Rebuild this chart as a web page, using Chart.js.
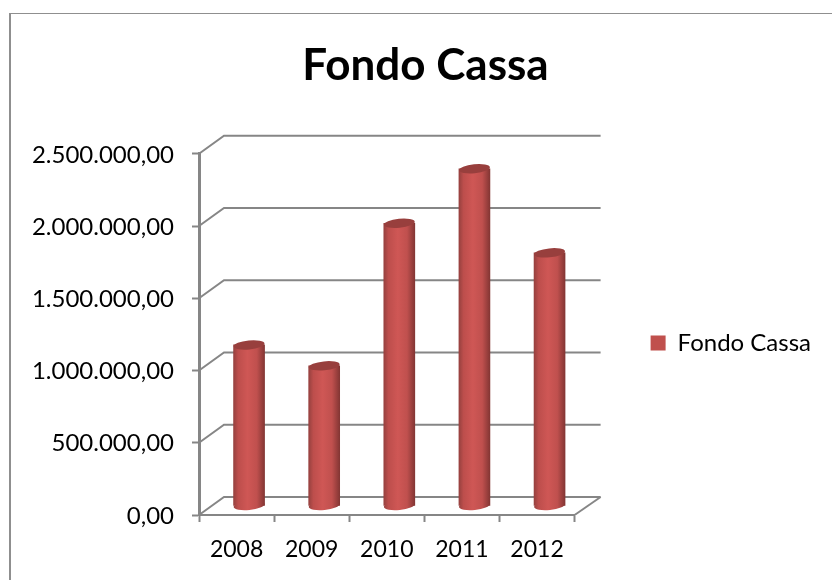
<!DOCTYPE html>
<html>
<head>
<meta charset="utf-8">
<title>Fondo Cassa</title>
<script src="https://cdn.jsdelivr.net/npm/chart.js@4"></script>
<style>
  html, body { margin: 0; padding: 0; background: #fff; }
  #frame { position: absolute; left: 9px; top: 13px; right: 0; bottom: 0; border-left: 2px solid #8f8f8f; border-top: 1px solid #8f8f8f; }
  #wrap { position: absolute; left: 0; top: 0; width: 832px; height: 580px; }
</style>
</head>
<body>
<div id="frame"></div>
<div id="wrap"><canvas id="cassaChart" width="832" height="580"></canvas></div>
<script>
const years = ["2008", "2009", "2010", "2011", "2012"];
const fondoCassa = [1115000, 970000, 1957000, 2334000, 1752000];
const yTickLabels = ["0,00", "500.000,00", "1.000.000,00", "1.500.000,00", "2.000.000,00", "2.500.000,00"];

const axisGrey = "#868686";
const fontName = "Lato, 'Open Sans', sans-serif";
// depth of the fake 3D box
const depthX = 25;
const depthY = 18;

function barGradient(context) {
  const chart = context.chart;
  if (context.dataIndex === undefined || !chart.scales.x) return "#c0504d";
  const mid = chart.scales.x.getPixelForValue(context.dataIndex);
  const g = chart.ctx.createLinearGradient(mid - 15.5, 0, mid + 15.5, 0);
  g.addColorStop(0, "#97413f");
  g.addColorStop(0.15, "#bd4e4c");
  g.addColorStop(0.45, "#cf5755");
  g.addColorStop(0.75, "#c0504e");
  g.addColorStop(1, "#843634");
  return g;
}

const wallsAndCaps = {
  id: "wallsAndCaps",
  afterLayout(chart) {
    // legend sits lower than the middle of the canvas, title is off centre
    chart.legend.top += 38;
    chart.legend.bottom += 38;
    chart.titleBlock.left += 15;
    chart.titleBlock.right += 15;
  },
  beforeDatasetsDraw(chart) {
    const { ctx, chartArea, scales } = chart;
    ctx.save();
    ctx.strokeStyle = axisGrey;
    ctx.lineWidth = 2;
    scales.y.ticks.forEach((t) => {
      const y = scales.y.getPixelForValue(t.value);
      ctx.beginPath();
      ctx.moveTo(chartArea.left, y);
      ctx.lineTo(chartArea.left + depthX, y - depthY);
      ctx.lineTo(chartArea.right + depthX + 1, y - depthY);
      ctx.stroke();
    });
    // floor, right hand side
    ctx.beginPath();
    ctx.moveTo(chartArea.right, chartArea.bottom);
    ctx.lineTo(chartArea.right + depthX + 1, chartArea.bottom - depthY);
    ctx.stroke();
    ctx.restore();
  },
  beforeDatasetDraw(chart) {
    chart.ctx.save();
    chart.ctx.translate(12.5, -9);
  },
  afterDatasetDraw(chart, args) {
    const ctx = chart.ctx;
    args.meta.data.forEach((bar) => {
      const rx = bar.width / 2;
      // round bottom
      ctx.fillStyle = bar.options.backgroundColor;
      ctx.beginPath();
      ctx.ellipse(bar.x, bar.base, rx, 4.5, -0.1, 0, Math.PI * 2);
      ctx.fill();
      // top of the cylinder
      ctx.fillStyle = "#983f3d";
      ctx.beginPath();
      ctx.ellipse(bar.x, bar.y, rx, 4.5, -0.1, 0, Math.PI * 2);
      ctx.fill();
    });
    ctx.restore();
  },
};

const cassaChart = new Chart(document.getElementById("cassaChart").getContext("2d"), {
  type: "bar",
  data: {
    labels: years,
    datasets: [
      {
        label: "Fondo Cassa",
        data: fondoCassa,
        backgroundColor: barGradient,
        barThickness: 31,
        borderWidth: 0,
        clip: false,
      },
    ],
  },
  options: {
    responsive: false,
    animation: false,
    layout: { padding: { top: 30, right: 11 } },
    scales: {
      x: {
        afterFit: (scale) => { scale.height = 65; },
        border: { color: axisGrey, width: 2 },
        grid: { drawOnChartArea: false, tickLength: 7, tickColor: axisGrey, tickWidth: 2 },
        ticks: { color: "#000", font: { family: fontName, size: 23 }, padding: 14, maxRotation: 0, autoSkip: false },
      },
      y: {
        min: 0,
        max: 2500000,
        afterFit: (scale) => { scale.width = 199; },
        border: { color: axisGrey, width: 3 },
        grid: { drawOnChartArea: false, tickLength: 7, tickColor: axisGrey, tickWidth: 2 },
        ticks: {
          stepSize: 500000,
          color: "#000",
          font: { family: fontName, size: 24 },
          padding: 18,
          labelOffset: 1,
          callback: (value, index) => yTickLabels[index],
        },
      },
    },
    plugins: {
      title: {
        display: true,
        text: "Fondo Cassa",
        color: "#000",
        font: { family: fontName, size: 44, weight: "bold" },
        padding: { top: 9, bottom: 62 },
      },
      legend: {
        position: "right",
        maxWidth: 270,
        labels: {
          color: "#000",
          font: { family: fontName, size: 24 },
          boxWidth: 15,
          boxHeight: 15,
          padding: 76,
          generateLabels: () => [
            { text: "Fondo Cassa", fillStyle: "#c0504d", strokeStyle: "#c0504d", lineWidth: 0, datasetIndex: 0, hidden: false },
          ],
        },
      },
      tooltip: { enabled: false },
    },
  },
  plugins: [wallsAndCaps],
});
</script>
</body>
</html>
